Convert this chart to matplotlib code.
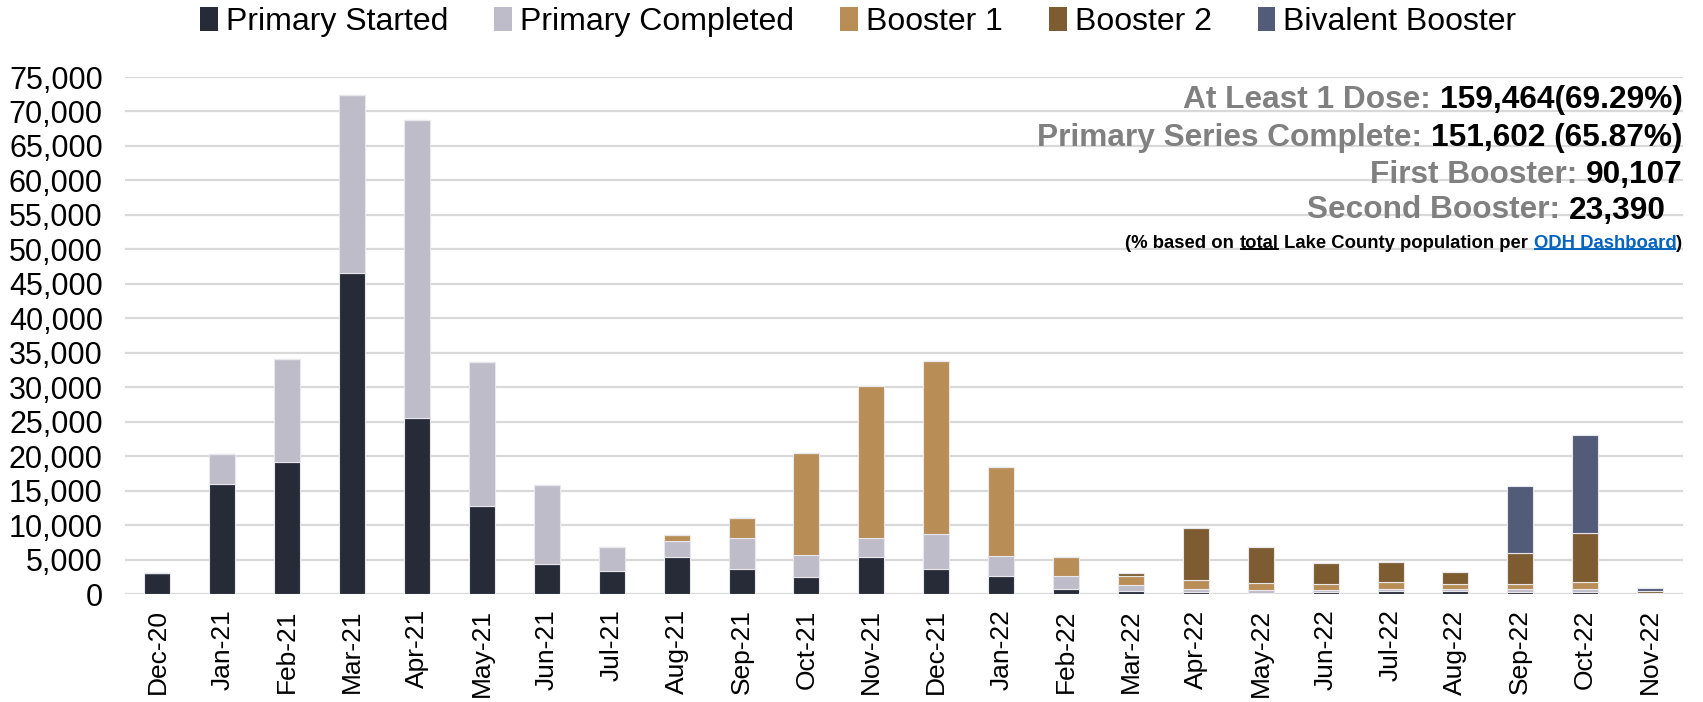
import numpy as np
import matplotlib
matplotlib.use("Agg")
import matplotlib.pyplot as plt
from matplotlib.patches import Patch
from matplotlib.lines import Line2D

plt.rcParams['font.family'] = ['Liberation Sans', 'DejaVu Sans']

months = ['Dec-20', 'Jan-21', 'Feb-21', 'Mar-21', 'Apr-21', 'May-21', 'Jun-21',
          'Jul-21', 'Aug-21', 'Sep-21', 'Oct-21', 'Nov-21', 'Dec-21', 'Jan-22',
          'Feb-22', 'Mar-22', 'Apr-22', 'May-22', 'Jun-22', 'Jul-22', 'Aug-22',
          'Sep-22', 'Oct-22', 'Nov-22']
primary_started = [3000, 16000, 19100, 46500, 25600, 12800, 4350, 3400, 5300, 3650,
                   2400, 5400, 3650, 2650, 770, 440, 290, 190, 290, 440, 390, 290, 290, 50]
primary_completed = [0, 4350, 15000, 25950, 43100, 20800, 11410, 3370, 2440, 4430,
                     3290, 2750, 5010, 2850, 1890, 870, 440, 340, 290, 330, 290, 440, 390, 30]
booster1 = [0, 0, 0, 0, 0, 0, 0, 0, 770, 2990, 14740, 22080, 25200, 12870, 2710,
            1350, 1250, 1070, 820, 920, 720, 670, 1060, 40]
booster2 = [0, 0, 0, 0, 0, 0, 0, 0, 0, 0, 0, 0, 0, 0, 0, 430, 7550, 5270, 3150,
            2900, 1840, 4550, 7160, 250]
bivalent = [0] * 21 + [9670, 14100, 500]

series = [('Primary Started', primary_started, '#272B38'),
          ('Primary Completed', primary_completed, '#BFBCC9'),
          ('Booster 1', booster1, '#B98E56'),
          ('Booster 2', booster2, '#7E5C32'),
          ('Bivalent Booster', bivalent, '#525B77')]

fig = plt.figure(figsize=(17.03, 7.02), dpi=100)
ax = fig.add_axes([0.0734, 0.1538, 0.9146, 0.7365])

x = np.arange(len(months))
bottom = np.zeros(len(months))
for name, vals, col in series:
    vals = np.array(vals, dtype=float)
    ax.bar(x, vals, 0.4, bottom=bottom, color=col, edgecolor='#E8E8EC',
           linewidth=0.8, zorder=3)
    bottom += vals

ax.set_xlim(-0.5, len(months) - 0.5)
ax.set_ylim(0, 75000)
ax.set_yticks(np.arange(0, 75001, 5000))
ax.set_yticklabels([f'{v:,}' for v in range(0, 75001, 5000)], fontsize=22)
ax.set_xticks(x)
ax.set_xticklabels(months, rotation=90, fontsize=19)
ax.tick_params(axis='y', length=0, pad=16)
ax.tick_params(axis='x', length=0, pad=11)
ax.grid(axis='y', color='#D9D9D9', linewidth=1.6, zorder=0)
ax.set_axisbelow(True)
for s in ax.spines.values():
    s.set_visible(False)

handles = [Patch(facecolor=c, edgecolor='none') for _, _, c in series]
fig.legend(handles, [n for n, _, _ in series], loc='center',
           bbox_to_anchor=(0.504, 0.969), ncol=5, frameon=False, fontsize=23,
           handlelength=0.55, handleheight=0.8, handletextpad=0.25,
           columnspacing=1.45)

# summary text, grey label + black number
summary = [('At Least 1 Dose:', '159,464(69.29%)', 100),
           ('Primary Series Complete:', '151,602 (65.87%)', 138),
           ('First Booster:', '90,107', 175),
           ('Second Booster:', '23,390', 210.5)]
H = 702.0
for lab, num, yc in summary:
    xr = 0.988 if lab != 'Second Booster:' else 0.978
    t = fig.text(xr, 1 - yc / H, num, ha='right', va='center', fontsize=22.8,
                 fontweight='bold', color='black')
    ax.annotate(lab + ' ', xy=(0, 0), xycoords=t, ha='right', va='bottom',
                fontsize=22.8, fontweight='bold', color='#808080',
                annotation_clip=False)

# footnote
parts = ['(% based on', 'total', 'Lake County population per', 'ODH Dashboard', ')']
colors = ['black', 'black', 'black', '#0563C1', 'black']
gaps = [4.0, 4.0, 4.0, 0, 0]
fs = 13.3
last = fig.text(0.988, 1 - 243 / H, parts[-1], ha='right', va='center',
                fontsize=fs, fontweight='bold', color=colors[-1])
objs = {4: last}
for i in range(3, -1, -1):
    o = ax.annotate(parts[i], xy=(0, 0), xycoords=objs[i + 1],
                    xytext=(-gaps[i], 0), textcoords='offset points',
                    ha='right', va='bottom', fontsize=fs, fontweight='bold',
                    color=colors[i], annotation_clip=False)
    objs[i] = o

fig.canvas.draw()
r = fig.canvas.get_renderer()
for i in (1, 3):
    bb = objs[i].get_window_extent(r)
    yl = bb.y0 + 0.17 * bb.height
    fig.add_artist(Line2D([bb.x0 + 1, bb.x1 - 1], [yl, yl], transform=None,
                          color=colors[i], linewidth=1.4))

fig.savefig('out.png', dpi=100)
